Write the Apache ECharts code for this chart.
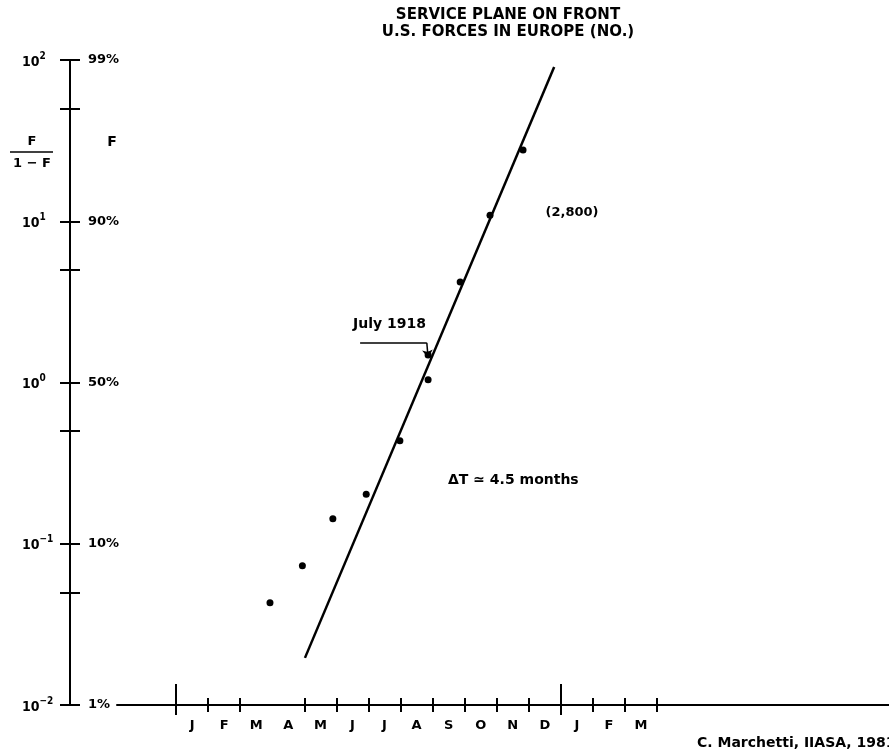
<!DOCTYPE html>
<html>
<head>
<meta charset="utf-8">
<script src="https://cdn.jsdelivr.net/npm/echarts@6/dist/echarts.min.js"></script>
<style>
html, body { margin: 0; padding: 0; background: #fff; }
#chart { width: 889px; height: 756px; }
</style>
</head>
<body>
<div id="chart"></div>
<script>
// x = months counted from 1 Jan 1918, y = F/(1-F)
var obsMonth = [2.93, 3.94, 4.89, 5.93, 6.98, 7.86, 7.86, 8.86, 9.79, 10.82];
var obsRatio = [0.043, 0.073, 0.143, 0.203, 0.436, 1.04, 1.48, 4.2, 10.9, 27.7];
var fitMonth = [4.02, 11.79];
var fitRatio = [0.0196, 90.6];
var julyLeader = [[5.74, 1.76], [7.82, 1.76], [7.86, 1.42]];

var monthLabels = ['J', 'F', 'M', 'A', 'M', 'J', 'J', 'A', 'S', 'O', 'N', 'D', 'J', 'F', 'M'];
var monthTicks = [0, 1, 2, 4, 5, 6, 7, 8, 9, 10, 11, 12, 13, 14, 15];
var yearTicks = [0, 12];
var ratioTicks = [0.01, 0.05, 0.1, 0.5, 1, 5, 10, 50, 100];
var ratioLabels = [0.01, 0.1, 1, 10, 100];
var expLabels = ['\u22122', '\u22121', '0', '1', '2'];
var pctLabels = ['1%', '10%', '50%', '90%', '99%'];

var FONT = '"DejaVu Sans", sans-serif';
var NARROW = '"DejaVu Sans Condensed", "DejaVu Sans", sans-serif';
var xMin = -1.84, xMax = 22.23;

function decadeIndex(v) {
    return Math.round(Math.log(v) / Math.LN10) + 2;
}

var monthCenters = monthLabels.map(function (m, i) { return i + 0.5; });

function txt(x, y, s, size, align) {
    return {
        type: 'text', x: x, y: y,
        style: { text: s, align: align || 'center', verticalAlign: 'middle', font: 'bold ' + size + 'px ' + FONT, fill: '#000' }
    };
}

var dom = document.getElementById('chart');
var myChart = echarts.init(dom);
var option = {
    animation: false,
    backgroundColor: '#fff',
    grid: { left: 117, right: 0, top: 60, bottom: 51 },
    xAxis: [
        {   // axis line + month letters + ticks below line
            type: 'value', min: xMin, max: xMax, position: 'bottom',
            splitLine: { show: false },
            axisLine: { onZero: false, lineStyle: { color: '#000', width: 2 } },
            axisTick: { inside: false, length: 7, customValues: monthTicks, lineStyle: { color: '#000', width: 2 } },
            axisLabel: {
                customValues: monthCenters, margin: 14,
                color: '#000', fontFamily: FONT, fontWeight: 'bold', fontSize: 13,
                formatter: function (v) { return monthLabels[Math.floor(v)]; }
            }
        },
        {   // ticks above line
            type: 'value', min: xMin, max: xMax, position: 'bottom',
            splitLine: { show: false }, axisLine: { show: false, onZero: false }, axisLabel: { show: false },
            axisTick: { inside: true, length: 7, customValues: monthTicks, lineStyle: { color: '#000', width: 2 } }
        },
        {   // year boundaries, taller
            type: 'value', min: xMin, max: xMax, position: 'bottom',
            splitLine: { show: false }, axisLine: { show: false, onZero: false }, axisLabel: { show: false },
            axisTick: { inside: true, length: 21, customValues: yearTicks, lineStyle: { color: '#000', width: 2 } }
        },
        {
            type: 'value', min: xMin, max: xMax, position: 'bottom',
            splitLine: { show: false }, axisLine: { show: false, onZero: false }, axisLabel: { show: false },
            axisTick: { inside: false, length: 10, customValues: yearTicks, lineStyle: { color: '#000', width: 2 } }
        }
    ],
    yAxis: [
        {   // main axis line, ticks to the right, 10^n labels
            type: 'log', logBase: 10, min: 0.01, max: 100, position: 'left', offset: 47,
            splitLine: { show: false },
            axisLine: { show: true, onZero: false, lineStyle: { color: '#000', width: 2 } },
            axisTick: { inside: true, length: 10, customValues: ratioTicks, lineStyle: { color: '#000', width: 2 } },
            axisLabel: {
                customValues: ratioLabels, margin: 48, align: 'left',
                formatter: function (v) { return '{b|10}{e|' + expLabels[decadeIndex(v)] + '}'; },
                rich: {
                    b: { fontFamily: NARROW, fontWeight: 'bold', fontSize: 14, color: '#000', lineHeight: 18, verticalAlign: 'bottom' },
                    e: { fontFamily: NARROW, fontWeight: 'bold', fontSize: 10, color: '#000', lineHeight: 18, verticalAlign: 'top' }
                }
            }
        },
        {   // ticks to the left, percentage labels on the right
            type: 'log', logBase: 10, min: 0.01, max: 100, position: 'left', offset: 47,
            splitLine: { show: false }, axisLine: { show: false, onZero: false },
            axisTick: { inside: false, length: 10, customValues: ratioTicks, lineStyle: { color: '#000', width: 2 } },
            axisLabel: {
                inside: true, customValues: ratioLabels, margin: 18, align: 'left',
                color: '#000', fontFamily: FONT, fontWeight: 'bold', fontSize: 13,
                formatter: function (v) { return pctLabels[decadeIndex(v)]; }
            }
        }
    ],
    graphic: [
        txt(508, 15, 'SERVICE PLANE ON FRONT', 15),
        txt(508, 32, 'U.S. FORCES IN EUROPE (NO.)', 15),
        txt(32, 142, 'F', 13),
        { type: 'line', shape: { x1: 10, y1: 152, x2: 53, y2: 152 }, style: { stroke: '#000', lineWidth: 1.5 } },
        txt(32, 164, '1 \u2212 F', 13),
        txt(112, 142, 'F', 14),
        txt(572, 213, '(2,800)', 13),
        txt(353, 324, 'July 1918', 14, 'left'),
        txt(448, 480, '\u0394T \u2243 4.5 months', 14, 'left'),
        txt(697, 743, 'C. Marchetti, IIASA, 1981', 14, 'left')
    ],
    series: [
        {
            name: 'fit',
            type: 'line',
            data: fitMonth.map(function (m, i) { return [m, fitRatio[i]]; }),
            symbol: 'none',
            lineStyle: { color: '#000', width: 2.5 },
            z: 2
        },
        {
            name: 'observed',
            type: 'scatter',
            data: obsMonth.map(function (m, i) { return [m, obsRatio[i]]; }),
            symbol: 'circle',
            symbolSize: 7,
            itemStyle: { color: '#000', opacity: 1 },
            z: 3
        },
        {
            name: 'july',
            type: 'line',
            data: julyLeader.slice(0, 2),
            symbol: 'none',
            lineStyle: { color: '#000', width: 1.5 },
            markLine: {
                silent: true,
                symbol: ['none', 'arrow'],
                symbolSize: 8,
                label: { show: false },
                lineStyle: { color: '#000', width: 1.5, type: 'solid' },
                data: [[{ coord: julyLeader[1] }, { coord: julyLeader[2] }]]
            }
        }
    ]
};
if (option && typeof option === 'object') {
    myChart.setOption(option, true);
}
</script>
</body>
</html>
